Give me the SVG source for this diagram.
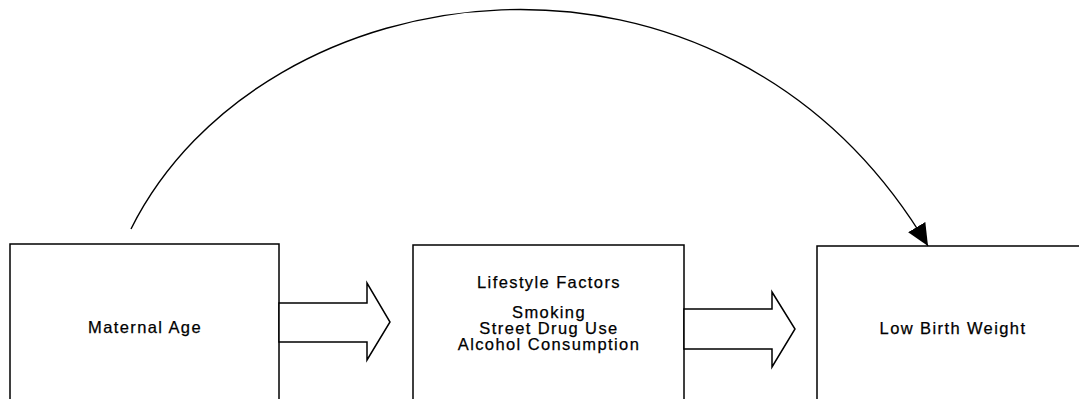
<svg xmlns="http://www.w3.org/2000/svg" width="1079" height="399" viewBox="0 0 1079 399">
<style>
.box{fill:#fff;stroke:#000;stroke-width:1.5}
.blk{fill:#fff;stroke:#000;stroke-width:1.5;stroke-linejoin:miter}
.lbl{font-family:"Liberation Sans",Arial,sans-serif;font-size:16.5px;letter-spacing:1.4px;fill:#000;stroke:#000;stroke-width:0.25;text-anchor:middle}
.curve{fill:none;stroke:#000;stroke-width:1.4}
</style>
<defs>
<marker id="ah" markerUnits="userSpaceOnUse" markerWidth="24" markerHeight="22" refX="22" refY="10" orient="auto">
<path d="M0,0 L22,10 L0,20 Z" fill="#000"/>
</marker>
</defs>
<rect width="1079" height="399" fill="#fff"/>
<g id="node-maternal-age">
<rect class="box" x="10" y="244" width="269" height="180"/>
<text class="lbl" x="145" y="333">Maternal Age</text>
</g>
<g id="node-lifestyle">
<rect class="box" x="413" y="245" width="271" height="180"/>
<text class="lbl" x="549" y="288">Lifestyle Factors</text>
<text class="lbl" x="549" y="318">Smoking</text>
<text class="lbl" x="549" y="334">Street Drug Use</text>
<text class="lbl" x="549" y="350">Alcohol Consumption</text>
</g>
<g id="node-lbw">
<rect class="box" x="817" y="246" width="280" height="180"/>
<text class="lbl" x="953" y="334">Low Birth Weight</text>
</g>
<g id="connectors">
<polygon class="blk" points="279,303 367,303 367,283 390,322 367,360 367,342 279,342"/>
<polygon class="blk" points="684,309 772,309 772,292 795,329 772,367 772,349 684,349"/>
<path class="curve" d="M131,229 C262,-33 722,-99 928,246" marker-end="url(#ah)"/>
</g>
</svg>
